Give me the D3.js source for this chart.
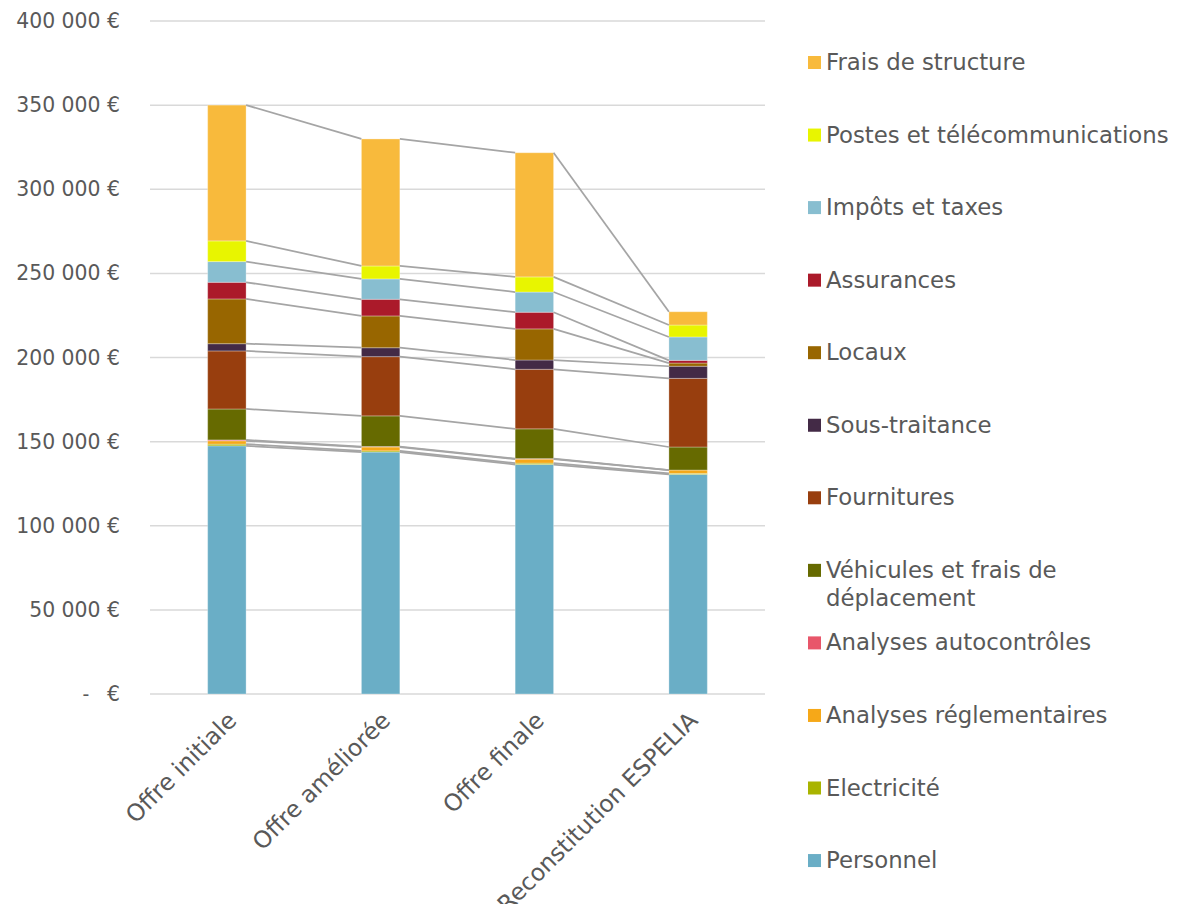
<!DOCTYPE html>
<html>
<head>
<meta charset="utf-8">
<script src="https://cdn.jsdelivr.net/npm/d3@7"></script>
<style>
  html, body { margin: 0; padding: 0; background: #ffffff; }
  svg { display: block; font-family: "Century Gothic", "DejaVu Sans", sans-serif; }
</style>
</head>
<body>
<svg id="chart" width="1177" height="904"></svg>
<script>
// Cost breakdown per offer (EUR)
const categories = ["Offre initiale", "Offre améliorée", "Offre finale", "Reconstitution ESPELIA"];

const seriesNames = [
  "Personnel", "Electricité", "Analyses réglementaires", "Analyses autocontrôles",
  "Véhicules et frais de déplacement", "Fournitures", "Sous-traitance", "Locaux",
  "Assurances", "Impôts et taxes", "Postes et télécommunications", "Frais de structure"
];

const personnel              = [147500, 143800, 136400, 130500];
const electricite            = [1000, 700, 800, 600];
const analysesReglementaires = [2000, 2300, 2400, 2000];
const analysesAutocontroles  = [500, 300, 300, 0];
const vehicules              = [18400, 18200, 17700, 13700];
const fournitures            = [34500, 35200, 35400, 40800];
const sousTraitance          = [4300, 5300, 5500, 7200];
const locaux                 = [26600, 18900, 18500, 1900];
const assurances             = [9900, 9900, 9900, 1600];
const impots                 = [12300, 12100, 12000, 13900];
const postes                 = [12300, 7700, 9000, 7100];
const fraisStructure         = [80700, 75500, 73800, 7900];

const seriesValues = [
  personnel, electricite, analysesReglementaires, analysesAutocontroles,
  vehicules, fournitures, sousTraitance, locaux, assurances, impots, postes, fraisStructure
];

const seriesColors = [
  "#6AAEC6", "#A9B400", "#F6A818", "#E8566A",
  "#666A00", "#983E0E", "#432A46", "#986600",
  "#AB1A2A", "#88BED0", "#E8F500", "#F8BA3C"
];

const yTicks = [0, 50000, 100000, 150000, 200000, 250000, 300000, 350000, 400000];

// Long legend entries wrap onto a second line
const legendLines = {
  "Véhicules et frais de déplacement": ["Véhicules et frais de", "déplacement"]
};

const svg = d3.select("#chart");
const plot = { left: 150, right: 765, top: 21, bottom: 694 };
const textColor = "#595959";

const x = d3.scaleBand()
  .domain(categories)
  .range([plot.left, plot.right])
  .paddingInner(0.75)
  .paddingOuter(0.375);

const y = d3.scaleLinear().domain([0, 400000]).range([plot.bottom, plot.top]);

// Stack the series
const rows = categories.map((c, i) => {
  const r = { category: c };
  seriesNames.forEach((s, k) => { r[s] = seriesValues[k][i]; });
  return r;
});
const stacked = d3.stack().keys(seriesNames)(rows);

// Gridlines
svg.append("g")
  .selectAll("line")
  .data(yTicks)
  .join("line")
  .attr("x1", plot.left).attr("x2", plot.right)
  .attr("y1", d => y(d)).attr("y2", d => y(d))
  .attr("stroke", "#d9d9d9")
  .attr("stroke-width", 1.5);

// Y axis labels
const fmt = v => d3.format(",")(v).replace(/,/g, " ") + " €";
const yAxis = d3.axisLeft(y).tickValues(yTicks).tickSize(0).tickPadding(0)
  .tickFormat(d => d === 0 ? "€" : fmt(d));
const yg = svg.append("g").attr("transform", "translate(120,0)").call(yAxis);
yg.select(".domain").remove();
yg.selectAll("text")
  .attr("fill", textColor)
  .attr("font-size", 20.4)
  .attr("font-family", "'Century Gothic', 'DejaVu Sans', sans-serif");
yg.selectAll(".tick").filter(d => d === 0)
  .append("text")
  .attr("x", -34)
  .attr("dy", "0.32em")
  .attr("text-anchor", "middle")
  .attr("fill", textColor)
  .attr("font-size", 20.4)
  .text("-");

// Stacked bars
const bw = x.bandwidth();
svg.append("g")
  .selectAll("g")
  .data(stacked)
  .join("g")
  .attr("fill", (d, k) => seriesColors[k])
  .selectAll("rect")
  .data(d => d)
  .join("rect")
  .attr("x", d => x(d.data.category))
  .attr("y", d => y(d[1]))
  .attr("width", bw)
  .attr("height", d => Math.max(0, y(d[0]) - y(d[1])))
  .attr("stroke", "rgba(255,255,255,0.3)")
  .attr("stroke-width", 1);

// Series lines joining the top of each segment between neighbouring bars
const links = [];
stacked.forEach(layer => {
  for (let i = 0; i < layer.length - 1; i++) {
    links.push({
      x1: x(categories[i]) + bw, y1: y(layer[i][1]),
      x2: x(categories[i + 1]), y2: y(layer[i + 1][1])
    });
  }
});
svg.append("g")
  .selectAll("line")
  .data(links)
  .join("line")
  .attr("x1", d => d.x1).attr("y1", d => d.y1)
  .attr("x2", d => d.x2).attr("y2", d => d.y2)
  .attr("stroke", "#a5a5a5")
  .attr("stroke-width", 1.75);

// Category labels, rotated
svg.append("g")
  .selectAll("text")
  .data(categories)
  .join("text")
  .attr("transform", d => `translate(${x(d) + bw / 2 + 11},${plot.bottom + 28}) rotate(-45)`)
  .attr("text-anchor", "end")
  .attr("fill", textColor)
  .attr("font-size", 23.5)
  .text(d => d);

// Legend, listed from the top of the stack down
const legendOrder = seriesNames.slice().reverse();
const legendColors = seriesColors.slice().reverse();
const lg = svg.append("g");
legendOrder.forEach((name, i) => {
  const cy = 62 + i * 72.55;
  lg.append("rect")
    .attr("x", 808).attr("y", cy - 6)
    .attr("width", 13).attr("height", 13)
    .attr("fill", legendColors[i]);
  const lines = legendLines[name] || [name];
  const t = lg.append("text")
    .attr("x", 826).attr("y", cy + 8)
    .attr("fill", textColor)
    .attr("font-size", 22.8);
  lines.forEach((ln, j) => {
    t.append("tspan").attr("x", 826).attr("dy", j === 0 ? 0 : 28.5).text(ln);
  });
});
</script>
</body>
</html>
